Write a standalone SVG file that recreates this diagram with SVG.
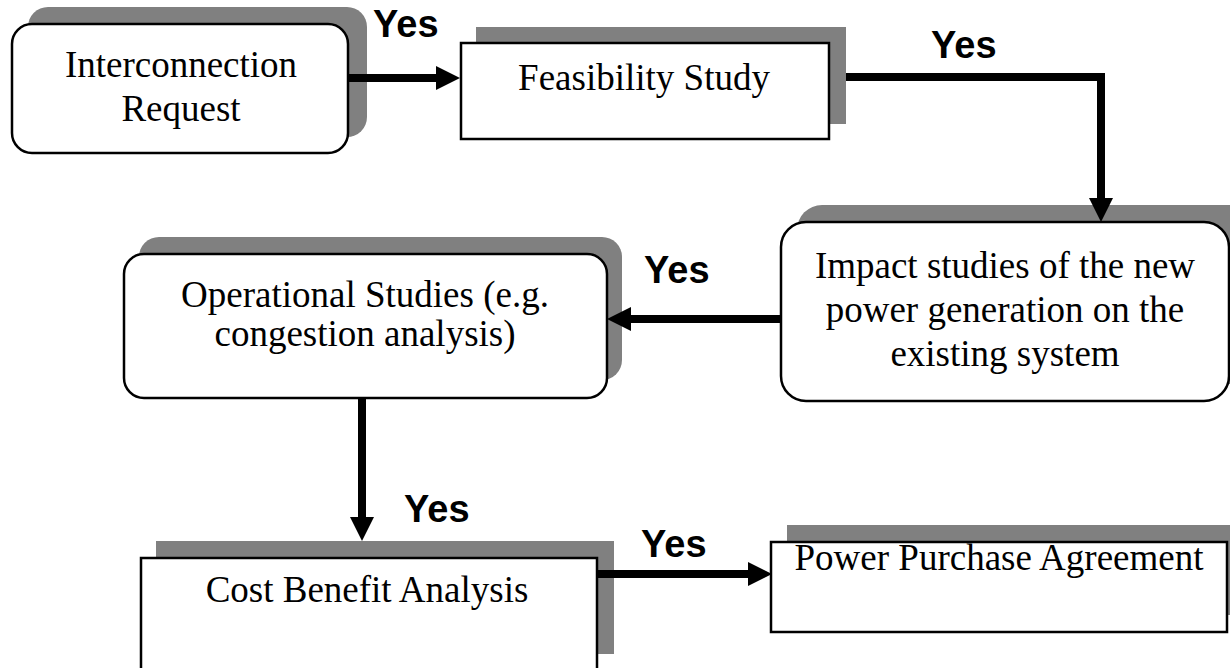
<svg xmlns="http://www.w3.org/2000/svg" width="1230" height="668" viewBox="0 0 1230 668">
<style>
.sh{fill:#808080;}
.bx{fill:#fff;stroke:#000;stroke-width:2.5;}
.t{font-family:"Liberation Serif","Times New Roman",serif;font-size:37px;fill:#000;text-anchor:middle;}
.y{font-family:"Liberation Sans",Arial,sans-serif;font-weight:bold;font-size:38px;fill:#000;}
.c{fill:none;stroke:#000;stroke-width:8;}
</style>
<defs>
<marker id="ah" markerUnits="userSpaceOnUse" markerWidth="25" markerHeight="25" refX="1" refY="12" orient="auto" overflow="visible">
<path d="M0,0 L24,12 L0,24 z" fill="#000"/>
</marker>
</defs>
<rect width="1230" height="668" fill="#fff"/>
<g id="n1">
<rect class="sh" x="28" y="7" width="339" height="130" rx="20"/>
<rect class="bx" x="12" y="24" width="336" height="129" rx="20"/>
<text class="t" x="181" y="77">Interconnection</text>
<text class="t" x="181" y="121">Request</text>
</g>
<g id="n2">
<rect class="sh" x="476" y="27" width="370" height="97"/>
<rect class="bx" x="461" y="43" width="368" height="96"/>
<text class="t" x="644" y="90">Feasibility Study</text>
</g>
<g id="n3">
<rect class="sh" x="797" y="205" width="460" height="179" rx="25"/>
<rect class="bx" x="781" y="222" width="448" height="179" rx="25"/>
<text class="t" x="1005" y="278">Impact studies of the new</text>
<text class="t" x="1005" y="322">power generation on the</text>
<text class="t" x="1005" y="366">existing system</text>
</g>
<g id="n4">
<rect class="sh" x="139" y="237" width="483" height="143" rx="20"/>
<rect class="bx" x="124" y="254" width="483" height="144" rx="20"/>
<text class="t" x="365" y="307">Operational Studies (e.g.</text>
<text class="t" x="365" y="346">congestion analysis)</text>
</g>
<g id="n5">
<rect class="sh" x="156" y="541" width="458" height="113"/>
<rect class="bx" x="141" y="558" width="456" height="140"/>
<text class="t" x="367" y="602">Cost Benefit Analysis</text>
</g>
<g id="n6">
<rect class="sh" x="787" y="525" width="458" height="90"/>
<rect class="bx" x="771" y="542" width="456" height="90"/>
<text class="t" x="999" y="570">Power Purchase Agreement</text>
</g>
<g id="connectors">
<path class="c" d="M348,78 H437" marker-end="url(#ah)"/>
<path class="c" d="M846,77 H1101 V199" marker-end="url(#ah)"/>
<path class="c" d="M781,319 H630" marker-end="url(#ah)"/>
<path class="c" d="M362,398 V518" marker-end="url(#ah)"/>
<path class="c" d="M597,574 H749" marker-end="url(#ah)"/>
</g>
<g id="labels">
<text class="y" x="373" y="37">Yes</text>
<text class="y" x="931" y="58">Yes</text>
<text class="y" x="644" y="283">Yes</text>
<text class="y" x="404" y="522">Yes</text>
<text class="y" x="641" y="557">Yes</text>
</g>
</svg>
